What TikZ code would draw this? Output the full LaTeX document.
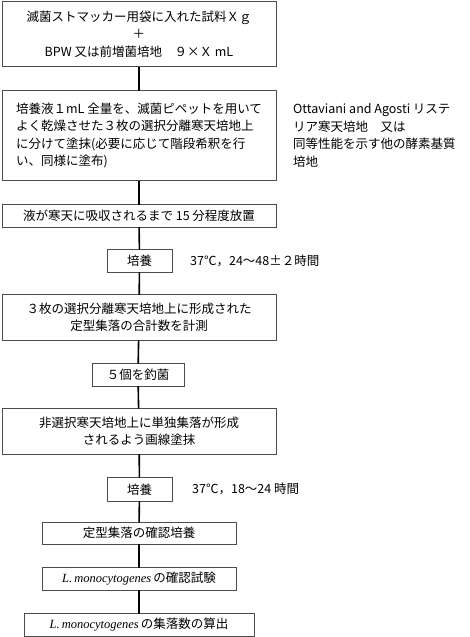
\documentclass[tikz,border=0pt]{standalone}
\usepackage{fontspec}
\setmainfont{Noto Sans CJK JP}
\newfontfamily\latfont{Liberation Serif}
\usetikzlibrary{positioning}
\newcommand{\Lmono}{{\latfont\itshape L.\,monocytogenes}}

\begin{document}
\begin{tikzpicture}[x=1pt, y=1pt,
    box/.style={draw=black!70, line width=0.8pt, align=center, anchor=north, outer sep=0pt,
                inner xsep=4pt, inner ysep=2pt, font=\fontsize{12.5}{17.5}\selectfont},
    wide/.style={box, minimum width=274pt},
    note/.style={align=left, inner sep=0pt, font=\fontsize{12.5}{17.5}\selectfont},
    link/.style={line width=1.6pt, black}]
    \useasboundingbox (0,0) rectangle (469,-637);

    % Nodes
    \node[wide, minimum height=65pt] (b1) at (139,-1.5)
        {滅菌ストマッカー用袋に入れた試料Ｘｇ\\＋\\BPW 又は前増菌培地　９×Ｘ mL};
    \node[wide, minimum height=90pt, align=left] (b2) at (139,-90.5)
        {培養液１mL 全量を、滅菌ピペットを用いて\\よく乾燥させた３枚の選択分離寒天培地上\\に分けて塗抹(必要に応じて階段希釈を行\\い、同様に塗布)};
    \node[note, right=17pt of b2] (n2)
        {Ottaviani and Agosti リステ\\リア寒天培地　又は\\同等性能を示す他の酵素基質\\培地};
    \node[wide, minimum height=22.5pt] (b3) at (139,-204.5) {液が寒天に吸収されるまで 15 分程度放置};
    \node[box, minimum width=65pt, minimum height=22.5pt] (b4) at (139.5,-249.5) {培養};
    \node[note, right=18pt of b4] (n4) {37℃，24～48±２時間};
    \node[wide, minimum height=45.5pt] (b5) at (139,-294.5)
        {３枚の選択分離寒天培地上に形成された\\定型集落の合計数を計測};
    \node[box, minimum width=92pt, minimum height=22.5pt] (b6) at (138,-363.5) {５個を釣菌};
    \node[wide, minimum height=45.5pt] (b7) at (139,-408.5)
        {非選択寒天培地上に単独集落が形成\\されるよう画線塗抹};
    \node[box, minimum width=65pt, minimum height=23.5pt] (b8) at (139.5,-477.5) {培養};
    \node[note, right=20pt of b8] (n8) {37℃，18～24 時間};
    \node[box, minimum width=194pt, minimum height=21.5pt] (b9) at (139,-522.5) {定型集落の確認培養};
    \node[box, minimum width=194pt, minimum height=22.5pt] (b10) at (139,-567.5) {\Lmono\,の確認試験};
    \node[box, minimum width=230pt, minimum height=22.5pt] (b11) at (139,-613.5) {\Lmono\,の集落数の算出};

    % Edges
    \draw[link] (b1) -- (b2);
    \draw[link] (b2) -- (b3);
    \draw[link] (b3) -- (b4);
    \draw[link] (b4) -- (b5);
    \draw[link] (b5) -- (b6);
    \draw[link] (b6) -- (b7);
    \draw[link] (b7) -- (b8);
    \draw[link] (b8) -- (b9);
    \draw[link] (b9) -- (b10);
    \draw[link] (b10) -- (b11);
\end{tikzpicture}
\end{document}
